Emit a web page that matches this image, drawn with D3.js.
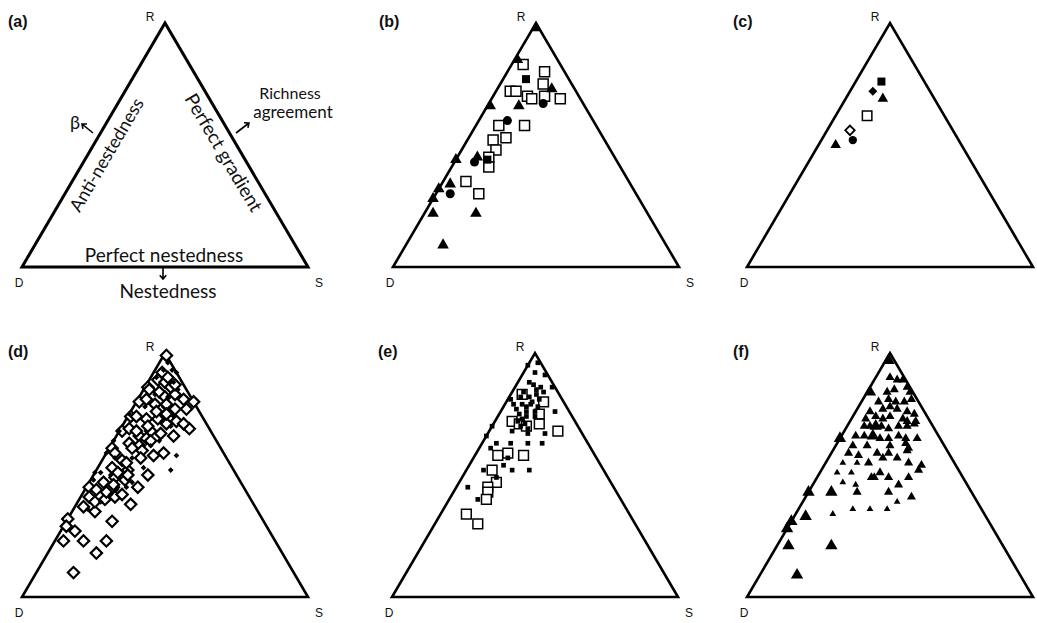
<!DOCTYPE html>
<html>
<head>
<meta charset="utf-8">
<style>
  body { margin: 0; background: #fff; }
  svg { display: block; }
  text { fill: #111; }
</style>
</head>
<body>
<svg width="1037" height="623"></svg>
<script src="https://d3js.org/d3.v7.min.js"></script>
<script>

// values are [R, S] in percent, D = 100 - R - S

/* (b) */
var bTriangles = [[98,1],[85,1],[73,19],[66,11],[66,1],[44,0],[45,7],[34,3],[32,0],[28,0],[22,3],[22,18],[9,13]];
var bCircles = [[67,19],[60,10],[43,7],[30,5]];
var bFilledSquares = [[77,8],[44,11]];
var bOpenSquares = [[83,4],[80,13],[72,5],[72,7],[70,12],[69,14],[75,15],[70,18],[69,24],[58,8],[58,17],
  [53,13],[52,9],[48,12],[45,11],[41,13],[35,8],[30,15]];

/* (c) */
var cFilledSquares = [[76,9]];
var cFilledDiamonds = [[72,8]];
var cTriangles = [[69,13],[50,6]];
var cOpenSquares = [[62,11]];
var cOpenDiamonds = [[56,8]];
var cCircles = [[52,11]];

/* (d) */
var dOpenDiamonds = [[99,1],[80,20],[69,24],[66,20],[58,17],[59,20],[50,19],[45,18],[38,19],[40,9],[41,12],
  [35,8],[31,16],[32,0],[29,1],[27,5],[23,3],[23,10],[23,18],[18,17],[10,13],[80,1],[74,1],[68,1],[61,1],
  [45,1],[86,1],[85,2],[89,3],[88,6],[86,9],[83,12],[81,16],[81,3],[79,7],[78,12],[77,15],[77,19],[74,3],
  [73,7],[73,11],[71,15],[72,18],[71,21],[69,3],[66,8],[68,11],[67,15],[63,6],[62,10],[59,3],[56,7],[53,5],
  [49,8],[48,12],[47,5],[44,4],[41,3],[37,3],[52,11],[92,3],[90,6],[87,10],[84,6],[82,9],[79,11],[76,9],
  [75,13],[70,9],[68,6],[65,11],[64,13],[61,8],[60,12],[57,13],[55,9],[51,8],[50,12],[46,9],[43,8],[42,14],[39,6]];
var dFilledDiamonds = [[58,25],[52,26],[64,16],[53,16],[45,11],[51,2],[48,1],[57,10],[96,3],[93,6],[93,3],
  [90,2],[75,0],[68,0],[64,0],[59,0],[51,0],[92,8],[82,10],[74,16],[45,14],[44,11],[88,9],[85,12],[83,5],
  [78,4],[72,13],[70,17],[62,14],[57,4],[50,6],[47,15],[42,10],[39,8],[36,5]];

/* (e) */
var eOpenSquares = [[72,6],[71,9],[70,12],[71,16],[68,24],[83,4],[80,13],[75,14],[58,8],[59,11],[58,17],
  [52,9],[47,13],[45,11],[43,12],[40,13],[34,9],[30,15]];
var eFilledSquares = [[96,3],[91,8],[86,13],[76,19],[95,0],[81,1],[70,0],[66,0],[92,4],[88,4],[85,8],[84,4],
  [80,9],[79,6],[76,9],[74,13],[77,5],[84,11],[75,7],[67,14],[67,20],[63,5],[63,10],[63,16],[63,21],[61,4],
  [57,12],[52,6],[52,16],[52,22],[54,12],[45,4],[40,10],[49,12],[82,7],[78,8],[73,9],[71,11],[87,6],[86,9],
  [83,9],[81,11],[79,9],[78,12],[76,12],[74,10],[72,8],[70,10],[69,13],[68,8],[79,3],[82,4]];

/* (f) */
var fLargeTriangles = [[97,1],[84,1],[65,0],[43,0],[43,8],[31,0],[33,4],[28,0],[21,4],[21,19],[9,13],[66,11],[70,10]];
var fMediumTriangles = [[90,5],[89,8],[89,10],[86,13],[84,7],[85,9],[84,15],[80,6],[81,9],[80,12],[80,15],
  [81,17],[76,5],[77,9],[78,11],[77,14],[76,18],[75,21],[73,5],[74,8],[73,11],[74,13],[73,18],[72,20],[72,23],
  [70,6],[70,8],[70,12],[69,15],[70,18],[70,21],[71,23],[66,5],[66,8],[65,14],[65,17],[66,20],[65,23],[65,27],
  [62,6],[62,11],[62,19],[63,24],[61,26],[59,6],[58,10],[55,15],[59,16],[57,19],[59,20],[57,24],[60,26],[55,29],
  [54,34],[51,21],[52,34],[49,19],[49,20],[49,25],[49,32],[46,30],[43,17],[43,28],[41,37]];
var fSmallTriangles = [[55,6],[55,11],[51,6],[51,11],[47,10],[46,15],[36,19],[36,25],[36,31],[39,33],[34,13]];

var corners = ["R", "D", "S"];

var svg = d3.select("svg"),
    width = +svg.attr("width"),
    side = 286,
    tall = 244;

/* D corner of each triangle */
var panels = [
  {id: "a", x: 22,  y: 267},
  {id: "b", x: 393, y: 267},
  {id: "c", x: 747, y: 267},
  {id: "d", x: 22,  y: 597},
  {id: "e", x: 392, y: 597},
  {id: "f", x: 747, y: 597}
];

panels.forEach(function(p) {
  var x = d3.scaleLinear().domain([0, 100]).range([p.x, p.x + side]),
      y = d3.scaleLinear().domain([0, 100]).range([p.y, p.y - tall]);
  p.pos = function(d) { return [x(d[1] + d[0] / 2), y(d[0])]; };
  p.g = svg.append("g");
});

var panel = {};
panels.forEach(function(p) { panel[p.id] = p; });

/* frames and labels */
panels.forEach(function(p) {
  var R = p.pos([100, 0]), D = p.pos([0, 0]), S = p.pos([0, 100]);
  p.g.append("path")
      .attr("d", "M" + [D, S, R].join("L") + "Z")
      .attr("fill", "none")
      .attr("stroke", "#000")
      .attr("stroke-width", p.id == "a" ? 3 : 2.6)
      .attr("stroke-linejoin", "miter");

  p.g.append("text")
      .attr("x", D[0] - 14).attr("y", R[1] + 4)
      .style("font", "bold 16px 'Liberation Sans', Arial, sans-serif")
      .text("(" + p.id + ")");

  var lab = p.g.append("g").style("font", "12px 'Liberation Sans', Arial, sans-serif")
      .attr("text-anchor", "middle");
  lab.append("text").attr("x", R[0] - 15).attr("y", R[1] - 2).text(corners[0]);
  lab.append("text").attr("x", D[0] - 3).attr("y", D[1] + 20).text(corners[1]);
  // the S of the right column falls outside the page
  if (S[0] + 11 < width - 6)
    lab.append("text").attr("x", S[0] + 11).attr("y", S[1] + 20).text(corners[2]);
});

/* panel (a) annotations */
(function() {
  var g = panel.a.g.append("g")
      .style("font-family", "Lato, 'Open Sans', sans-serif")
      .attr("text-anchor", "middle");
  var arrow = function(x1, y1, x2, y2) {
    var a = Math.atan2(y2 - y1, x2 - x1), h = 5;
    var p1 = [x2 - h * Math.cos(a - 0.7), y2 - h * Math.sin(a - 0.7)],
        p2 = [x2 - h * Math.cos(a + 0.7), y2 - h * Math.sin(a + 0.7)];
    g.append("path")
        .attr("d", "M" + [x1, y1] + "L" + [x2, y2] + "M" + p1 + "L" + [x2, y2] + "L" + p2)
        .attr("fill", "none").attr("stroke", "#000").attr("stroke-width", 1.6);
  };

  g.append("text").attr("x", 164).attr("y", 262).style("font-size", "19px").text("Perfect nestedness");
  g.append("text").attr("x", 168).attr("y", 298).style("font-size", "19px").text("Nestedness");
  arrow(163, 267, 163, 279);

  g.append("text").attr("transform", "translate(112,158) rotate(-59.6)")
      .style("font-size", "18px").text("Anti-nestedness");
  g.append("text").attr("transform", "translate(218,156) rotate(59.4)")
      .style("font-size", "19px").text("Perfect gradient");

  g.append("text").attr("x", 75).attr("y", 129).style("font-size", "18px").text("\u03b2");
  arrow(93, 133, 82, 124);

  g.append("text").attr("x", 290).attr("y", 99).style("font-size", "16px").text("Richness");
  g.append("text").attr("x", 293).attr("y", 118).style("font-size", "17px").text("agreement");
  arrow(236, 133, 249, 123);
})();

/* markers */
var series = [
  {p: "b", data: bOpenSquares, type: d3.symbolSquare, size: 100, fill: "#fff", sw: 1.5},
  {p: "b", data: bTriangles, type: d3.symbolTriangle, size: 58, fill: "#000", sw: 0},
  {p: "b", data: bCircles, type: d3.symbolCircle, size: 64, fill: "#000", sw: 0},
  {p: "b", data: bFilledSquares, type: d3.symbolSquare, size: 64, fill: "#000", sw: 0},

  {p: "c", data: cOpenSquares, type: d3.symbolSquare, size: 90, fill: "#fff", sw: 1.5},
  {p: "c", data: cOpenDiamonds, type: d3.symbolSquare, size: 45, fill: "#fff", sw: 1.8, rot: 45},
  {p: "c", data: cFilledSquares, type: d3.symbolSquare, size: 64, fill: "#000", sw: 0},
  {p: "c", data: cFilledDiamonds, type: d3.symbolSquare, size: 40, fill: "#000", sw: 0, rot: 45},
  {p: "c", data: cTriangles, type: d3.symbolTriangle, size: 48, fill: "#000", sw: 0},
  {p: "c", data: cCircles, type: d3.symbolCircle, size: 55, fill: "#000", sw: 0},

  {p: "d", data: dOpenDiamonds, type: d3.symbolSquare, size: 64, fill: "#fff", sw: 2.2, rot: 45},
  {p: "d", data: dFilledDiamonds, type: d3.symbolSquare, size: 16, fill: "#000", sw: 0, rot: 45},

  {p: "e", data: eOpenSquares, type: d3.symbolSquare, size: 95, fill: "#fff", sw: 1.5},
  {p: "e", data: eFilledSquares, type: d3.symbolSquare, size: 22, fill: "#000", sw: 0},

  {p: "f", data: fLargeTriangles, type: d3.symbolTriangle, size: 66, fill: "#000", sw: 0},
  {p: "f", data: fMediumTriangles, type: d3.symbolTriangle, size: 36, fill: "#000", sw: 0},
  {p: "f", data: fSmallTriangles, type: d3.symbolTriangle, size: 20, fill: "#000", sw: 0}
];

series.forEach(function(s) {
  var p = panel[s.p];
  p.g.append("g").selectAll("path")
    .data(s.data)
    .enter().append("path")
      .attr("d", d3.symbol().type(s.type).size(s.size))
      .attr("transform", function(d) {
        return "translate(" + p.pos(d) + ")" + (s.rot ? " rotate(" + s.rot + ")" : "");
      })
      .attr("fill", s.fill)
      .attr("stroke", "#000")
      .attr("stroke-width", s.sw);
});

</script>
</body>
</html>
